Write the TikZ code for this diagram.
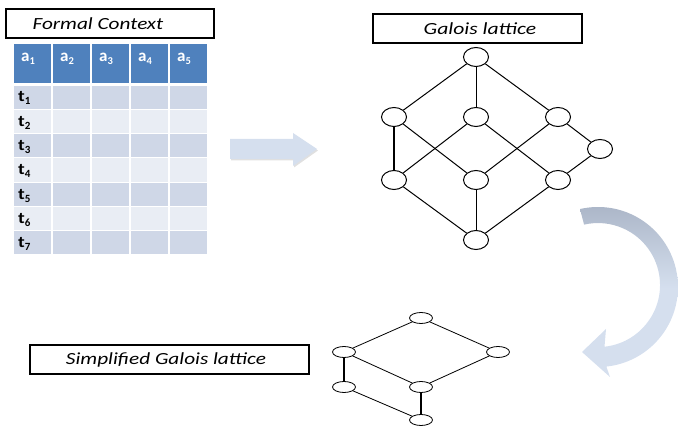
\documentclass[tikz,border=0pt]{standalone}
\usepackage{fontspec}
\setmainfont{Carlito}
\usetikzlibrary{shapes.geometric}
\definecolor{hdrblue}{HTML}{4F81BD}
\definecolor{rowdark}{HTML}{CFD7E7}
\definecolor{rowlight}{HTML}{E9EDF4}
\definecolor{arrowblue}{HTML}{D5DFEE}
\definecolor{arrowgrey}{HTML}{A8B3C5}
\begin{document}
\begin{tikzpicture}[x=1pt,y=-1pt,
  titlebox/.style={draw=black,line width=1.8pt,fill=white,inner sep=0pt},
  titletext/.style={inner sep=0pt,font=\fontsize{17}{20}\selectfont\itshape},
  lnode/.style={ellipse,draw=black,line width=1pt,fill=white,minimum width=25pt,minimum height=19pt,inner sep=0pt},
  snode/.style={ellipse,draw=black,line width=0.8pt,fill=white,minimum width=23pt,minimum height=11pt,inner sep=0pt},
  ledge/.style={line width=1pt},
  sedge/.style={line width=0.8pt},
  vedge/.style={line width=1.3pt},
  cell/.style={draw=white,line width=1.2pt}]
\useasboundingbox (0,0) rectangle (678,427);
\clip (0,0) rectangle (678,427);

% ---- formal context ----
\node[titlebox,minimum width=208pt,minimum height=29pt] (fcbox) at (110,23.5) {};
\node[titletext] (fctext) at (98,24) {\scalebox{1.25}[1]{Formal Context}};

\foreach \c [count=\i] in {13,52,91,130,169} {
  \path[fill=hdrblue,cell] (\c,43) rectangle ++(39,41);
  \node[anchor=base west,inner sep=0pt,text=white,font=\fontsize{17}{18}\selectfont\bfseries] (a\i) at (\c+8,62)
    {a\raisebox{-2.5pt}{\fontsize{10.5}{11}\selectfont\i}};
}
\foreach \r in {1,...,7} {
  \pgfmathsetmacro\yt{85+(\r-1)*24.3}
  \ifodd\r\def\rc{rowdark}\else\def\rc{rowlight}\fi
  \foreach \c in {13,52,91,130,169} {
    \path[fill=\rc,cell] (\c,\yt) rectangle ++(39,24.3);
  }
  \node[anchor=base west,inner sep=0pt,font=\fontsize{16}{17}\selectfont\bfseries] (t\r) at (18,\yt+17)
    {\scalebox{1.2}[1]{t}\raisebox{-3pt}{\fontsize{11}{12}\selectfont\r}};
}

% ---- straight arrow ----
\fill[black!12,xshift=1pt,yshift=-1.5pt] (230,139) -- (293,139) -- (293,133) -- (317,149) -- (293,166) -- (293,159) -- (230,159) -- cycle;
\fill[arrowblue] (230,139) -- (293,139) -- (293,133) -- (317,149) -- (293,166) -- (293,159) -- (230,159) -- cycle;

% ---- Galois lattice ----
\node[titlebox,minimum width=209pt,minimum height=29pt] (glbox) at (477.5,28.5) {};
\node[titletext] (gltext) at (480,28.5) {\scalebox{1.27}[1]{Galois lattice}};

\node[lnode] (g0) at (476,57) {};
\node[lnode] (gl) at (394,117) {};
\node[lnode] (gm) at (476,117) {};
\node[lnode] (gr) at (558,117) {};
\node[lnode] (gx) at (600,149) {};
\node[lnode] (hl) at (394,180) {};
\node[lnode] (hm) at (476,180) {};
\node[lnode] (hr) at (558,180) {};
\node[lnode] (gb) at (476,240) {};
\draw[ledge] (g0) -- (gl);
\draw[ledge] (g0) -- (gm);
\draw[ledge] (g0) -- (gr);
\draw[vedge] (gl) -- (hl);
\draw[ledge] (gl) -- (hm);
\draw[ledge] (gm) -- (hl);
\draw[ledge] (gm) -- (hr);
\draw[ledge] (gr) -- (hm);
\draw[ledge] (gr) -- (gx);
\draw[ledge] (gx) -- (hr);
\draw[ledge] (hl) -- (gb);
\draw[ledge] (hm) -- (gb);
\draw[ledge] (hr) -- (gb);

% ---- curved arrow ----
\path[top color=arrowgrey,bottom color=arrowblue,middle color=arrowblue]
  (598,287) ++(-103:80) arc[start angle=-103,end angle=84,radius=80]
  -- (610,377) -- (582,352) -- (606,329) -- (604.5,346.7)
  arc[start angle=84,end angle=-103,radius=62] -- cycle;

% ---- simplified lattice ----
\node[titlebox,minimum width=279pt,minimum height=29pt] (slbox) at (169.5,359.5) {};
\node[titletext] (sltext) at (166,360) {\scalebox{1.25}[1]{Simplified Galois lattice}};

\node[snode] (s0) at (421,318) {};
\node[snode] (sl) at (344,352) {};
\node[snode] (sr) at (498,352) {};
\node[snode] (sm) at (421,387) {};
\node[snode] (sll) at (344,387) {};
\node[snode] (sb) at (421,420) {};
\draw[sedge] (s0) -- (sl);
\draw[sedge] (s0) -- (sr);
\draw[sedge] (sl) -- (sm);
\draw[sedge] (sr) -- (sm);
\draw[vedge] (sl) -- (sll);
\draw[vedge] (sm) -- (sb);
\draw[sedge] (sll) -- (sb);
\end{tikzpicture}
\end{document}
